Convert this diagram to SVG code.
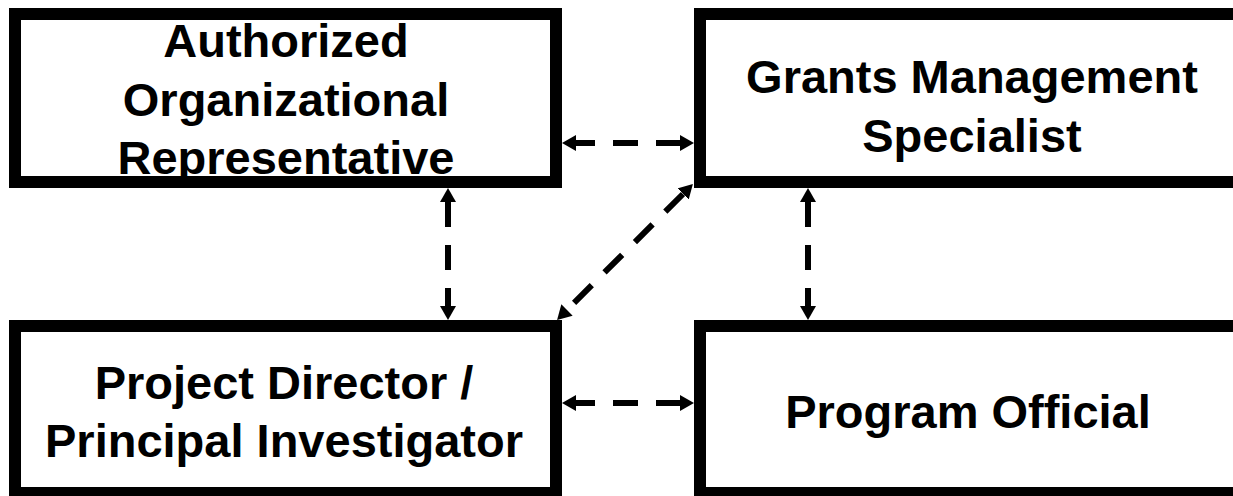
<svg xmlns="http://www.w3.org/2000/svg" width="1233" height="496" viewBox="0 0 1233 496">
<style>
.box{fill:#fff;stroke:#000;stroke-width:12}
.t{font-family:"Liberation Sans",Arial,sans-serif;font-weight:bold;font-size:47px;fill:#000;text-anchor:middle}
.c{fill:none;stroke:#000;stroke-width:6;stroke-dasharray:25 18}
</style>
<defs>
<marker id="ah" markerUnits="userSpaceOnUse" markerWidth="14" markerHeight="16" viewBox="0 0 14 16" refX="0" refY="8" orient="auto-start-reverse">
<path d="M0,0 L14,8 L0,16 z" fill="#000"/>
</marker>
</defs>
<rect width="1233" height="496" fill="#fff"/>
<g id="aor">
<rect class="box" x="15" y="14" width="541" height="168"/>
<text class="t" x="286" y="57">Authorized</text>
<text class="t" x="286" y="116">Organizational</text>
<text class="t" x="286" y="174">Representative</text>
</g>
<g id="gms">
<rect class="box" x="700" y="14" width="545" height="168"/>
<text class="t" x="972" y="93">Grants Management</text>
<text class="t" x="972" y="152">Specialist</text>
</g>
<g id="pdpi">
<rect class="box" x="15" y="326" width="541" height="167"/>
<text class="t" x="284" y="399">Project Director /</text>
<text class="t" x="284" y="457">Principal Investigator</text>
</g>
<g id="po">
<rect class="box" x="700" y="326" width="545" height="167"/>
<text class="t" x="968" y="428">Program Official</text>
</g>
<g id="connectors">
<path class="c" d="M576,143 L680,143" stroke-dashoffset="6" marker-start="url(#ah)" marker-end="url(#ah)"/>
<path class="c" d="M448,202 L448,306" marker-start="url(#ah)" marker-end="url(#ah)"/>
<path class="c" d="M808,202 L808,306" marker-start="url(#ah)" marker-end="url(#ah)"/>
<path class="c" d="M683,194 L567,310" marker-start="url(#ah)" marker-end="url(#ah)"/>
<path class="c" d="M576,403 L680,403" stroke-dashoffset="6" marker-start="url(#ah)" marker-end="url(#ah)"/>
</g>
</svg>
